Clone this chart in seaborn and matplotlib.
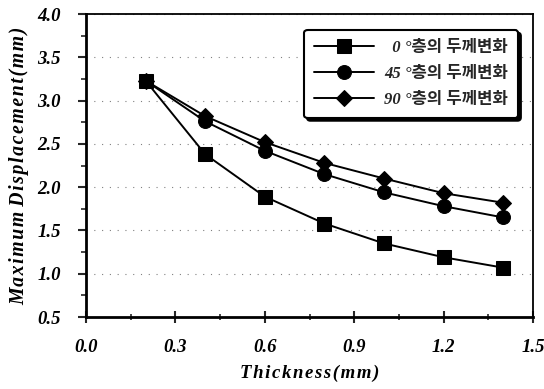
import matplotlib
matplotlib.use("Agg")
import matplotlib.pyplot as plt
import seaborn as sns
import pandas as pd
from matplotlib.ticker import MultipleLocator, FormatStrFormatter

thickness = [0.2, 0.4, 0.6, 0.8, 1.0, 1.2, 1.4]
disp_0 = [3.23, 2.38, 1.89, 1.58, 1.35, 1.19, 1.07]
disp_45 = [3.23, 2.76, 2.42, 2.15, 1.94, 1.78, 1.65]
disp_90 = [3.23, 2.82, 2.52, 2.28, 2.10, 1.93, 1.82]
labels = ["  0 °층의 두께변화", "45 °층의 두께변화", "90 °층의 두께변화"]
markers = ["s", "o", "D"]
msizes = [10, 10, 8]

df = pd.DataFrame({
    "x": thickness * 3,
    "y": disp_0 + disp_45 + disp_90,
    "s": [labels[0]] * 7 + [labels[1]] * 7 + [labels[2]] * 7,
})

sns.set_theme(style="white")
plt.rcParams["font.family"] = ["Liberation Serif", "Noto Sans CJK KR"]

fig = plt.figure(figsize=(5.44, 3.89), dpi=100)
ax = fig.add_axes([0.158, 0.185, 0.822, 0.779])

for lab, mk, ms in zip(labels, markers, msizes):
    sub = df[df["s"] == lab]
    sns.lineplot(data=sub, x="x", y="y", ax=ax, color="black", lw=1.4,
                 marker=mk, markersize=ms, markeredgecolor="black",
                 markerfacecolor="black", label=lab, legend=False)

ax.set_xlim(0.0, 1.5)
ax.set_ylim(0.5, 4.0)
ax.xaxis.set_major_locator(MultipleLocator(0.3))
ax.xaxis.set_minor_locator(MultipleLocator(0.15))
ax.yaxis.set_major_locator(MultipleLocator(0.5))
ax.yaxis.set_minor_locator(MultipleLocator(0.25))
ax.xaxis.set_major_formatter(FormatStrFormatter("%.1f"))
ax.yaxis.set_major_formatter(FormatStrFormatter("%.1f"))

ax.tick_params(axis="x", which="major", direction="inout", length=8, width=1.5, bottom=True,
               pad=12, labelsize=13.5, labelcolor="black")
ax.tick_params(axis="x", which="minor", direction="inout", length=5, width=1.2, bottom=True)
ax.tick_params(axis="y", which="major", direction="out", length=6, width=1.5, left=True,
               pad=12, labelsize=13.5, labelcolor="black")
ax.tick_params(axis="y", which="minor", direction="out", length=3.5, width=1.2, left=True)

ax.yaxis.grid(True, linestyle=(0, (1, 6)), color="gray", lw=0.8)
ax.xaxis.grid(False)

for side in ["left", "bottom"]:
    ax.spines[side].set_linewidth(2.0)
for side in ["top", "right"]:
    ax.spines[side].set_linewidth(1.3)
for sp in ax.spines.values():
    sp.set_color("black")

hs = "\u200a"
ax.set_xlabel(hs.join("Thickness(mm)"), fontsize=13.5, fontweight="bold", style="italic",
              labelpad=6, color="black")
ax.set_ylabel(hs.join("Maximum") + " " + hs.join("Displacement(mm)"), fontsize=14.2,
              fontweight="bold", style="italic", labelpad=6, color="black")

leg = ax.legend(loc="upper right", bbox_to_anchor=(0.985, 0.975), frameon=True, fancybox=True,
                shadow={"color": "black", "alpha": 1.0}, edgecolor="black", framealpha=1,
                handlelength=3.6, handletextpad=0.6, borderpad=0.6, labelspacing=0.6,
                prop={"family": ["Liberation Serif", "Noto Sans CJK KR"], "weight": "bold",
                      "style": "italic", "size": 12})
leg.get_frame().set_linewidth(1.5)

fig.canvas.draw()
for t in ax.get_xticklabels() + ax.get_yticklabels():
    t.set_fontweight("bold")
    t.set_fontstyle("italic")

fig.savefig("out.png", dpi=100)
